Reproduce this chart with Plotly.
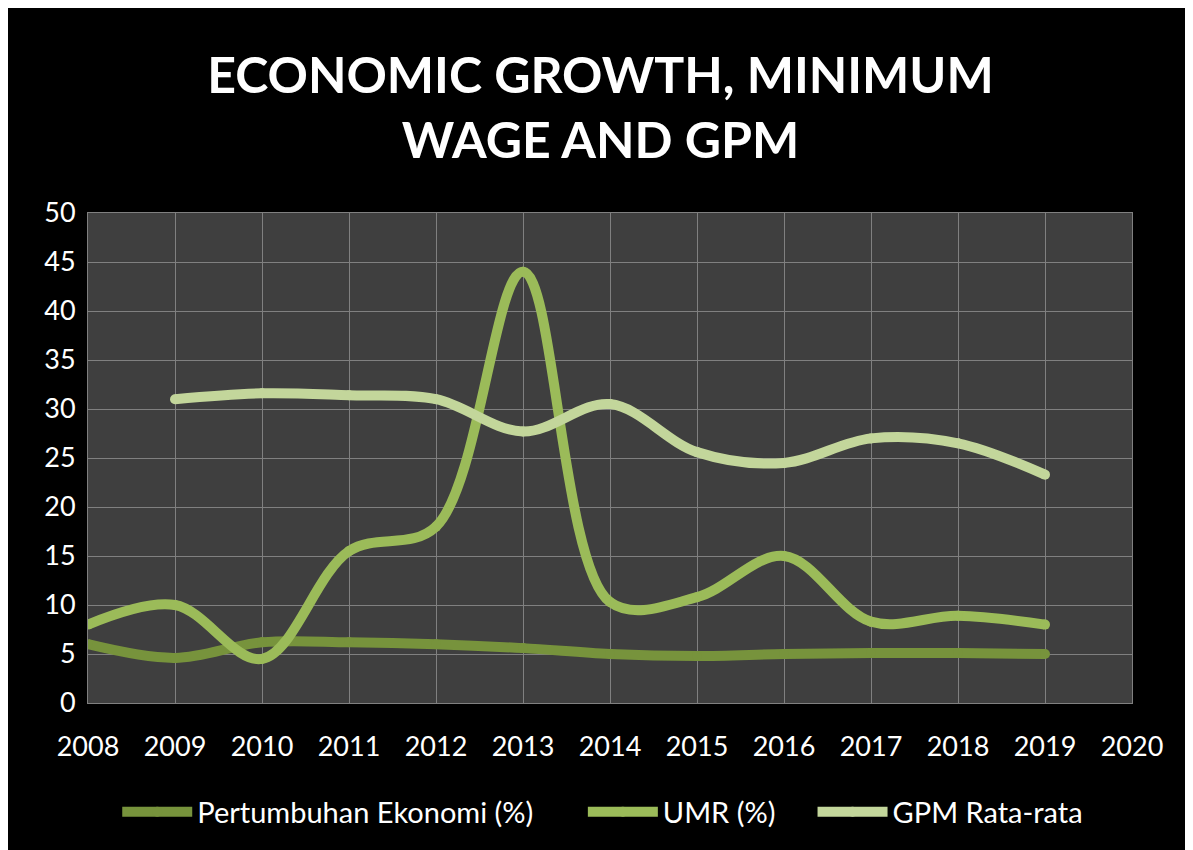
import plotly.graph_objects as go

years = [2008, 2009, 2010, 2011, 2012, 2013, 2014, 2015, 2016, 2017, 2018, 2019]
pertumbuhan = [6.0, 4.6, 6.2, 6.2, 6.0, 5.6, 5.0, 4.8, 5.0, 5.1, 5.1, 5.0]
umr = [8.0, 10.0, 4.5, 15.5, 18.0, 44.0, 10.3, 10.8, 15.0, 8.3, 8.9, 8.0]
gpm = [None, 31.0, 31.6, 31.4, 31.0, 27.7, 30.5, 25.6, 24.5, 27.0, 26.5, 23.3]

x_ticks = list(range(2008, 2021))
y_ticks = list(range(0, 51, 5))

series = [
    ("Pertumbuhan Ekonomi (%)", pertumbuhan, "#77933C", "legend", 0.028),
    ("UMR (%)", umr, "#9BBB59", "legend2", 0.474),
    ("GPM Rata-rata", gpm, "#C3D69B", "legend3", 0.694),
]

# page body has an 8px margin, so the figure is 8px smaller each way
W, H = 1185, 842
L, R, T, B = 80, 61, 205, 147

fig = go.Figure()
for name, vals, col, leg, _ in series:
    fig.add_trace(go.Scatter(
        x=years, y=vals, name=name, mode="lines+markers",
        line=dict(color=col, width=10, shape="spline", smoothing=1.0),
        marker=dict(color=col, size=10, line=dict(width=0)),
        connectgaps=False, legend=leg,
    ))

font = "Lato, 'Open Sans', sans-serif"
legend_layouts = {}
for name, vals, col, leg, lx in series:
    legend_layouts[leg] = dict(
        orientation="h", x=lx, xanchor="left", y=-0.222, yanchor="middle",
        font=dict(family=font, size=29, color="#FFFFFF"),
        bgcolor="rgba(0,0,0,0)", itemwidth=70, borderwidth=0,
    )

fig.update_layout(
    width=W, height=H,
    margin=dict(l=L, r=R, t=T, b=B),
    paper_bgcolor="#000000",
    plot_bgcolor="#3F3F3F",
    title=dict(
        text="<b>ECONOMIC GROWTH, MINIMUM<br>WAGE AND GPM</b>",
        x=0.5, xanchor="center", y=0.899, yanchor="middle",
        font=dict(family=font, size=50, color="#FFFFFF"),
    ),
    xaxis=dict(
        range=[2008, 2020], tickmode="array", tickvals=x_ticks,
        ticktext=[str(v) for v in x_ticks],
        showgrid=True, gridcolor="#808080", gridwidth=1,
        showline=True, linecolor="#808080", linewidth=1, mirror=True,
        zeroline=False, ticks="", ticklabelstandoff=20,
        tickfont=dict(family=font, size=27, color="#FFFFFF"),
    ),
    yaxis=dict(
        range=[0, 50], tickmode="array", tickvals=y_ticks,
        ticktext=[str(v) for v in y_ticks],
        showgrid=True, gridcolor="#808080", gridwidth=1,
        showline=True, linecolor="#808080", linewidth=1, mirror=True,
        zeroline=False, ticks="outside", ticklen=6, tickcolor="rgba(0,0,0,0)",
        tickfont=dict(family=font, size=27, color="#FFFFFF"),
    ),
    showlegend=True,
    **legend_layouts,
)

fig.write_html("out.html")
